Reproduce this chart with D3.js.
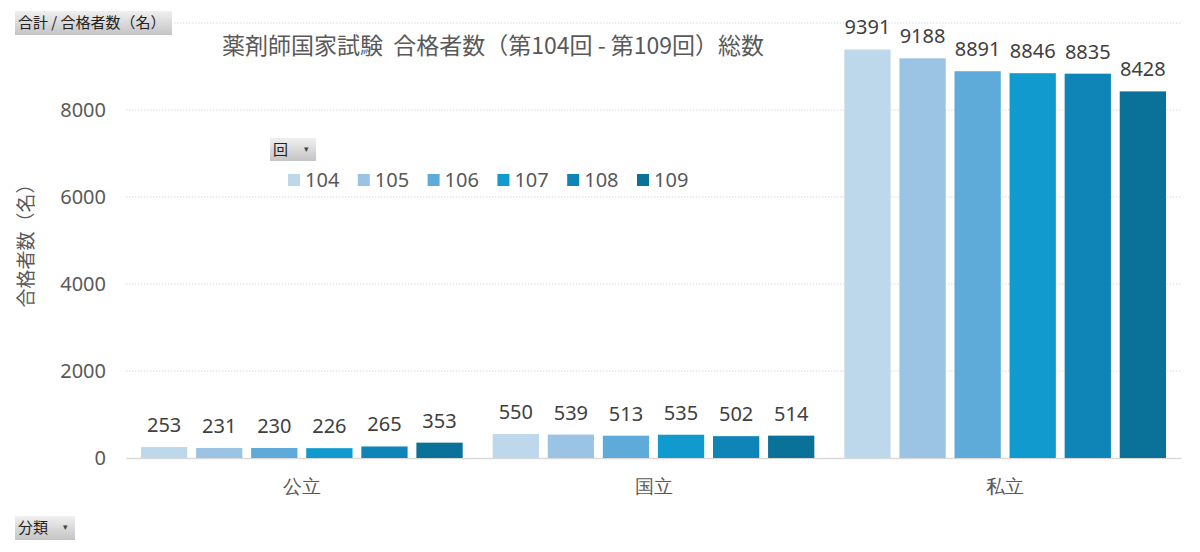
<!DOCTYPE html>
<html>
<head>
<meta charset="utf-8">
<script src="https://cdn.jsdelivr.net/npm/d3@7"></script>
<style>
  html, body { margin: 0; padding: 0; background: #fff; }
  svg { display: block; font-family: "Noto Sans CJK JP", "Noto Sans", sans-serif; }
</style>
</head>
<body>
<div id="chart"></div>
<script>
// data
const categories = ["公立", "国立", "私立"];
const series = ["104", "105", "106", "107", "108", "109"];
const values = [
	[253, 231, 230, 226, 265, 353],     // 公立
	[550, 539, 513, 535, 502, 514],     // 国立
	[9391, 9188, 8891, 8846, 8835, 8428] // 私立
];
const yTicks = [0, 2000, 4000, 6000, 8000];
const colors = ["#bdd7eb", "#9bc4e4", "#5eabd9", "#119ace", "#0e85b6", "#0a7199"];

const width = 1200, height = 552;
const numFont = "'Noto Sans', sans-serif";

const svg = d3.select("#chart").append("svg")
	.attr("width", width).attr("height", height);

const defs = svg.append("defs");
const grad = defs.append("linearGradient").attr("id", "btn")
	.attr("x1", 0).attr("y1", 0).attr("x2", 0).attr("y2", 1);
grad.append("stop").attr("offset", "0%").attr("stop-color", "#f0f0f0");
grad.append("stop").attr("offset", "100%").attr("stop-color", "#c4c4c4");

const x0 = d3.scaleBand().domain(categories).range([126, 1181]).padding(0);
const x1 = d3.scaleBand().domain(series)
	.range([15, x0.bandwidth() - 15]).paddingInner(0.16).paddingOuter(0);
const y = d3.scaleLinear().domain([0, 10000]).range([458, 23]);

// gridlines
svg.append("g").selectAll("line")
	.data([2000, 4000, 6000, 8000, 10000])
	.join("line")
	.attr("x1", 126).attr("x2", 1181)
	.attr("y1", d => y(d)).attr("y2", d => y(d))
	.attr("stroke", "#d9d9d9").attr("stroke-width", 1)
	.attr("stroke-dasharray", "1.5,1.5");

// y axis
const yAxis = svg.append("g")
	.attr("transform", "translate(126,0)")
	.call(d3.axisLeft(y).tickValues(yTicks).tickFormat(d3.format("d")).tickSize(0).tickPadding(20));
yAxis.select(".domain").remove();
yAxis.selectAll("text")
	.attr("fill", "#595959").style("font-size", "20px")
	.style("font-family", numFont);

// x axis
const xAxis = svg.append("g")
	.attr("transform", "translate(0," + y(0) + ")")
	.call(d3.axisBottom(x0).tickSize(0).tickPadding(22));
xAxis.select(".domain").attr("stroke", "#d9d9d9").attr("stroke-width", 1.5);
xAxis.selectAll("text")
	.attr("fill", "#595959").style("font-size", "19px");

// bars
const groups = svg.append("g").selectAll("g")
	.data(categories)
	.join("g")
	.attr("transform", d => "translate(" + x0(d) + ",0)");

groups.selectAll("rect")
	.data((d, i) => values[i].map((v, j) => ({ s: series[j], v: v, c: colors[j] })))
	.join("rect")
	.attr("x", d => x1(d.s))
	.attr("y", d => y(d.v))
	.attr("width", x1.bandwidth())
	.attr("height", d => y(0) - y(d.v))
	.attr("fill", d => d.c);

groups.selectAll("text")
	.data((d, i) => values[i].map((v, j) => ({ s: series[j], v: v })))
	.join("text")
	.attr("x", d => x1(d.s) + x1.bandwidth() / 2)
	.attr("y", d => y(d.v) - 15)
	.attr("text-anchor", "middle")
	.attr("fill", "#404040")
	.style("font-size", "20px")
	.style("font-family", numFont)
	.text(d => d.v);

// title
svg.append("text")
	.attr("x", 493).attr("y", 54)
	.attr("text-anchor", "middle")
	.attr("fill", "#595959")
	.style("font-size", "23px")
	.text("薬剤師国家試験\u00a0\u00a0合格者数（第104回 - 第109回）総数");

// y axis title
svg.append("text")
	.attr("transform", "translate(33,241) rotate(-90)")
	.attr("text-anchor", "middle")
	.attr("fill", "#595959")
	.style("font-size", "19px")
	.text("合格者数（名）");

// legend
const legend = svg.append("g").selectAll("g")
	.data(series)
	.join("g")
	.attr("transform", (d, i) => "translate(" + (288 + i * 69.8) + ",180)");
legend.append("rect")
	.attr("x", 0).attr("y", -6).attr("width", 12).attr("height", 12)
	.attr("fill", (d, i) => colors[i]);
legend.append("text")
	.attr("x", 17).attr("y", 7)
	.attr("fill", "#595959")
	.style("font-size", "20px")
	.style("font-family", numFont)
	.text(d => d);

// pivot field buttons
function button(x, yy, w, h, label, arrow) {
	const g = svg.append("g").attr("transform", "translate(" + x + "," + yy + ")");
	g.append("rect").attr("width", w).attr("height", h).attr("fill", "url(#btn)");
	g.append("text").attr("x", 3).attr("y", h / 2 + 5)
		.attr("fill", "#222").style("font-size", "15px").text(label);
	if (arrow) {
		g.append("text").attr("x", w - 12).attr("y", h / 2 + 2)
			.attr("fill", "#444").style("font-size", "9px").text("▾");
	}
}
button(15, 11, 157, 24, "合計 / 合格者数（名）", false);
button(270, 138, 46, 23, "回", true);
button(15, 516, 60, 24, "分類", true);
</script>
</body>
</html>
